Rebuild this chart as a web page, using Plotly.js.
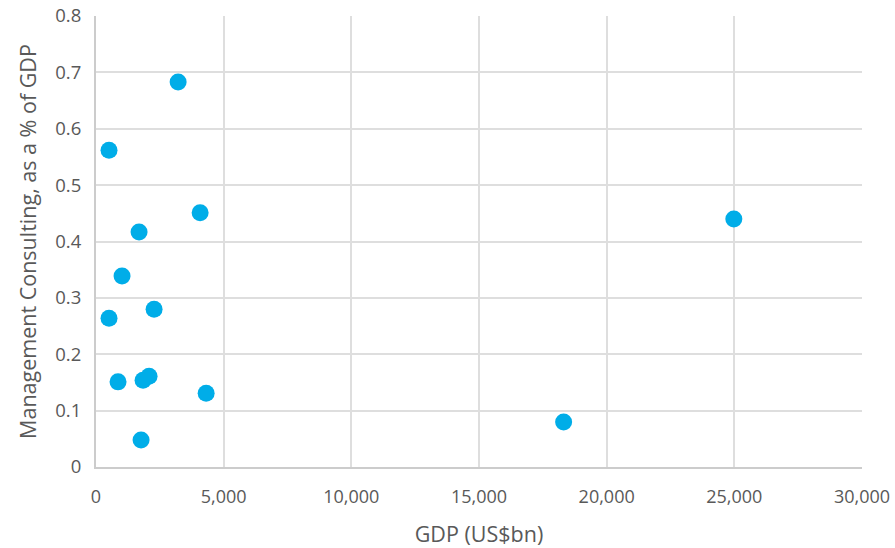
<!DOCTYPE html>
<html>
<head>
<meta charset="utf-8">
<script src="https://cdn.plot.ly/plotly-3.0.1.min.js"></script>
<style>html,body{margin:0;padding:0;background:#fff;}#chart{width:895px;height:548px;}</style>
</head>
<body>
<div id="chart"></div>
<script>
const gdp = [3216, 510, 4078, 1686, 1020, 510, 2275, 863, 1843, 2078, 4314, 1765, 18314, 24980];
const consultingShare = [0.683, 0.562, 0.451, 0.417, 0.339, 0.264, 0.280, 0.151, 0.154, 0.161, 0.131, 0.048, 0.080, 0.440];
const xTicks = [0, 5000, 10000, 15000, 20000, 25000, 30000];
const yTicks = [0, 0.1, 0.2, 0.3, 0.4, 0.5, 0.6, 0.7, 0.8];

const trace = {
  x: gdp,
  y: consultingShare,
  type: 'scatter',
  mode: 'markers',
  marker: {color: '#00ADE8', size: 17},
  hoverinfo: 'x+y'
};

const fontFam = '"Open Sans", "Noto Sans", sans-serif';
const layout = {
  width: 895, height: 548,
  margin: {l: 96, r: 33, t: 16, b: 81},
  paper_bgcolor: '#fff', plot_bgcolor: '#fff',
  showlegend: false,
  separators: '.,',
  font: {family: fontFam, size: 17, color: '#595959'},
  xaxis: {
    range: [0, 30000],
    tickvals: xTicks,
    tickformat: ',d',
    showgrid: true, gridcolor: '#dedede', gridwidth: 2,
    zeroline: false,
    showline: true, linecolor: '#cccccc', linewidth: 2,
    ticks: '', ticklabelstandoff: 12,
    tickfont: {size: 18, color: '#595959'},
    title: {text: 'GDP (US$bn)', font: {size: 21.5, color: '#595959'}, standoff: 21}
  },
  yaxis: {
    range: [0, 0.8],
    tickvals: yTicks,
    showgrid: true, gridcolor: '#dedede', gridwidth: 2,
    zeroline: false,
    showline: true, linecolor: '#cccccc', linewidth: 2,
    ticks: '', ticklabelstandoff: 9,
    tickfont: {size: 18.5, color: '#595959'},
    title: {text: 'Management Consulting, as a % of GDP', font: {size: 21.5, color: '#595959'}, standoff: 13}
  }
};

Plotly.newPlot('chart', [trace], layout, {displayModeBar: false, staticPlot: true});
</script>
</body>
</html>
